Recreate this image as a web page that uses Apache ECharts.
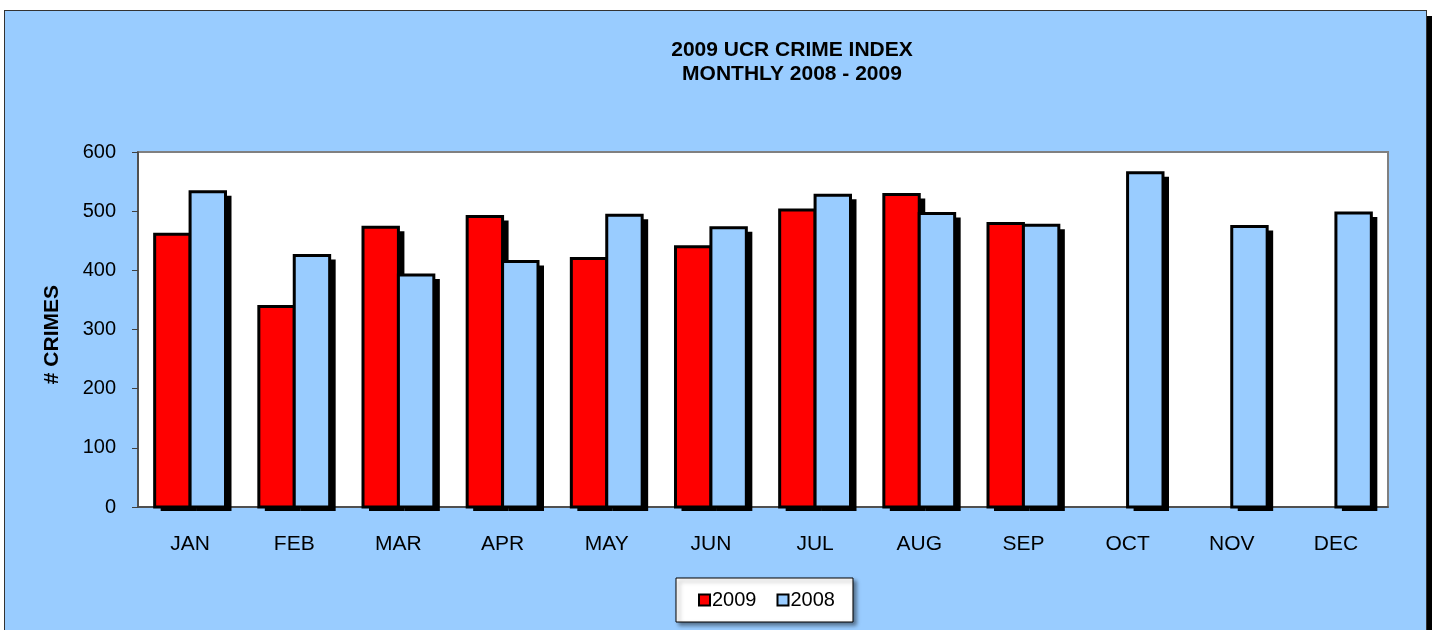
<!DOCTYPE html>
<html>
<head>
<meta charset="utf-8">
<script src="https://cdn.jsdelivr.net/npm/echarts@6/dist/echarts.min.js"></script>
<style>
  html, body { margin: 0; padding: 0; background: #fff; overflow: hidden; }
  #frame {
    position: absolute; left: 4px; top: 10px; width: 1421px; height: 650px;
    background: #99CCFF; border: 1px solid #333;
    box-shadow: 5px 6px 0 #000;
  }
  #chart { position: absolute; left: 0; top: 0; width: 1436px; height: 630px; }
</style>
</head>
<body>
<div id="frame"></div>
<div id="chart"></div>
<script>
// --- adatok ---
const months = ['JAN', 'FEB', 'MAR', 'APR', 'MAY', 'JUN', 'JUL', 'AUG', 'SEP', 'OCT', 'NOV', 'DEC'];
const crimes2009 = [461, 339, 473, 491, 420, 440, 502, 528, 479, null, null, null];
const crimes2008 = [533, 425, 392, 415, 493, 472, 527, 496, 476, 565, 474, 497];
const yTicks = [0, 100, 200, 300, 400, 500, 600];

const FONT = '"Liberation Sans", Arial, sans-serif';
const BAR_FRAC = 0.34; // egy oszlop szélessége a kategória arányában

// oszlop + fekete árnyék (a keret árnyéka ne látszódjon a kitöltésen belül)
function barRenderer(color, side) {
    return function (params, api) {
        const val = api.value(1);
        if (val == null || isNaN(val)) return;
        const cat = api.value(0);
        const top = api.coord([cat, val]);
        const base = api.coord([cat, 0]);
        const w = api.size([1, 0])[0] * BAR_FRAC;
        const x = side < 0 ? top[0] - w : top[0];
        const h = base[1] - top[1];
        return {
            type: 'group',
            children: [
                { type: 'rect', shape: { x: x + 6, y: top[1] + 4, width: w, height: h }, style: { fill: '#000' } },
                { type: 'rect', shape: { x: x, y: top[1], width: w, height: h }, style: { fill: color, stroke: '#000', lineWidth: 3 } }
            ]
        };
    };
}

const chart = echarts.init(document.getElementById('chart'));
chart.setOption({
    animation: false,
    backgroundColor: 'transparent',
    title: {
        text: '2009 UCR CRIME INDEX\nMONTHLY 2008 - 2009',
        left: 787, top: 33, textAlign: 'center',
        textStyle: { fontFamily: FONT, fontSize: 21, fontWeight: 'bold', color: '#000', lineHeight: 24 }
    },
    legend: {
        left: 676, top: 578,
        padding: [12, 18, 12, 22],
        backgroundColor: '#fff',
        borderColor: '#000', borderWidth: 1,
        shadowColor: 'rgba(0,0,0,0.45)', shadowBlur: 4, shadowOffsetX: 3, shadowOffsetY: 3,
        itemWidth: 11, itemHeight: 11, itemGap: 20,
        icon: 'rect',
        itemStyle: { borderColor: '#000', borderWidth: 2, shadowBlur: 0, shadowOffsetX: 0, shadowOffsetY: 0, shadowColor: 'transparent' },
        textStyle: { fontFamily: FONT, fontSize: 20, color: '#000', padding: [0, 0, 0, -3] },
        data: ['2009', '2008']
    },
    graphic: [{
        type: 'text',
        left: 42, top: 285,
        rotation: Math.PI / 2,
        style: { text: '# CRIMES', font: 'bold 21px ' + FONT, fill: '#000' }
    }],
    grid: {
        left: 138, top: 152, width: 1250, height: 355,
        show: true, backgroundColor: '#fff', borderColor: '#808080', borderWidth: 2
    },
    xAxis: {
        type: 'category',
        data: months,
        axisLine: { lineStyle: { color: '#404040', width: 1.5 } },
        axisTick: { length: 5, lineStyle: { color: '#404040' } },
        axisLabel: { fontFamily: FONT, fontSize: 21, color: '#000', margin: 27 }
    },
    yAxis: {
        type: 'value',
        min: yTicks[0], max: yTicks[yTicks.length - 1], interval: 100,
        splitLine: { show: false },
        axisLine: { show: true, lineStyle: { color: '#404040', width: 1.5 } },
        axisTick: { show: true, length: 6, lineStyle: { color: '#404040' } },
        axisLabel: { fontFamily: FONT, fontSize: 20, color: '#000', margin: 22 }
    },
    series: [
        {
            name: '2009', type: 'custom', renderItem: barRenderer('#FF0000', -1),
            encode: { x: 0, y: 1 },
            itemStyle: { color: '#FF0000' },
            data: crimes2009.map((v, i) => [i, v])
        },
        {
            name: '2008', type: 'custom', renderItem: barRenderer('#99CCFF', 1),
            encode: { x: 0, y: 1 },
            itemStyle: { color: '#99CCFF' },
            data: crimes2008.map((v, i) => [i, v])
        }
    ]
});
</script>
</body>
</html>
